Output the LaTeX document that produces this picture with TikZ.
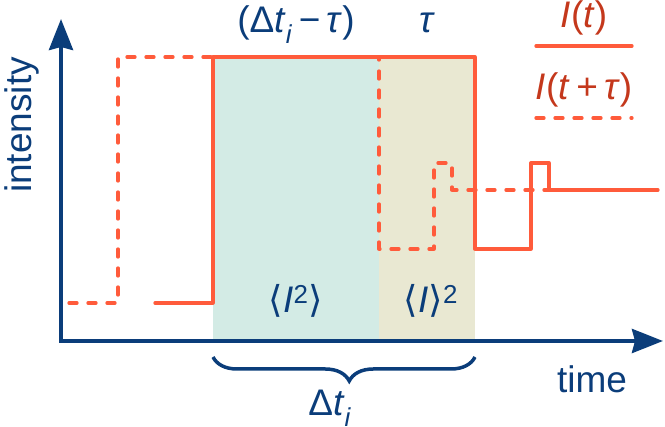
\documentclass[tikz,border=0pt]{standalone}
\usepackage{fontspec}
\setmainfont{Liberation Sans}
\newfontfamily\brfont{DejaVu Sans}
\usepackage{xcolor}
\usetikzlibrary{arrows.meta, decorations.pathreplacing}

\definecolor{axisblue}{HTML}{0B3D7A}
\definecolor{sigorange}{HTML}{FF5B3B}
\definecolor{sigred}{HTML}{C4381C}
\definecolor{tealfill}{HTML}{D3EBE5}
\definecolor{olivefill}{HTML}{E9E8D2}

\newcommand{\lbr}{{\brfont ⟨}}
\newcommand{\rbr}{{\brfont ⟩}}

\begin{document}
\begin{tikzpicture}[
  x=1pt, y=-1pt,
  axis/.style={draw=axisblue, line width=4pt, {Stealth[length=31pt, width=24pt, inset=3pt]}-{Stealth[length=31pt, width=24pt, inset=3pt]}},
  sig/.style={draw=sigorange, line width=3.3pt, line cap=round, line join=round},
  sigshift/.style={sig, dash pattern=on 8pt off 11pt},
  lbl/.style={font=\fontsize{37}{40}\selectfont, text=axisblue, anchor=base, inner sep=0pt},
  leg/.style={lbl, text=sigred},
  brc/.style={draw=axisblue, line width=3.5pt, decorate, decoration={brace, amplitude=24pt, aspect=0.48}}
]
  \useasboundingbox (0,0) rectangle (665,427);

  % 1. Averaging windows
  \fill[tealfill] (213,57) rectangle (379,341);
  \fill[olivefill] (379,57) rectangle (475,341);

  % 2. Shifted signal I(t+tau)
  \draw[sigshift] (69,303) -- (118,303) -- (118,57) -- (379,57) -- (379,249) -- (434,249)
    -- (434,163) -- (452,163) -- (452,190) -- (560,190);

  % 3. Signal I(t)
  \draw[sig] (155,303) -- (213,303) -- (213,57) -- (475,57) -- (475,249) -- (531,249)
    -- (531,163) -- (549,163) -- (549,190) -- (658,190);

  % 4. Axes
  \draw[axis] (61,19) |- (663,341);
  \node[lbl, rotate=90] (ylab) at (31,125) {intensity};
  \node[lbl] (xlab) at (592,393) {time};

  % 5. Window labels
  \node[lbl] (wlong) at (296,33) {(Δ\textit{t}\textsubscript{\textit{i}}\,−\,\textit{τ})};
  \node[lbl] (wshort) at (427,33) {\textit{τ}};
  \node[lbl] (sqmean) at (296,313) {\lbr\textit{I}\textsuperscript{2}\rbr};
  \node[lbl] (meansq) at (431,313) {\lbr\textit{I}\rbr\textsuperscript{2}};

  % 6. Legend
  \node[leg] (legI) at (584,28) {\textit{I}(\textit{t})};
  \node[leg] (legIs) at (584,100) {\textit{I}(\textit{t}\,+\,\textit{τ})};
  \coordinate (la) at (536,46);
  \coordinate (lb) at (632,46);
  \coordinate (lc) at (536,118);
  \coordinate (ld) at (632,118);
  \draw[sig] (la) -- (lb);
  \draw[sigshift] (lc) -- (ld);

  % 7. Brace for Delta t_i
  \coordinate (ba) at (475,357);
  \coordinate (bb) at (213,357);
  \draw[brc] (ba) -- (bb);
  \node[lbl] (dt) at (330,416) {Δ\textit{t}\textsubscript{\textit{i}}};

\end{tikzpicture}
\end{document}
